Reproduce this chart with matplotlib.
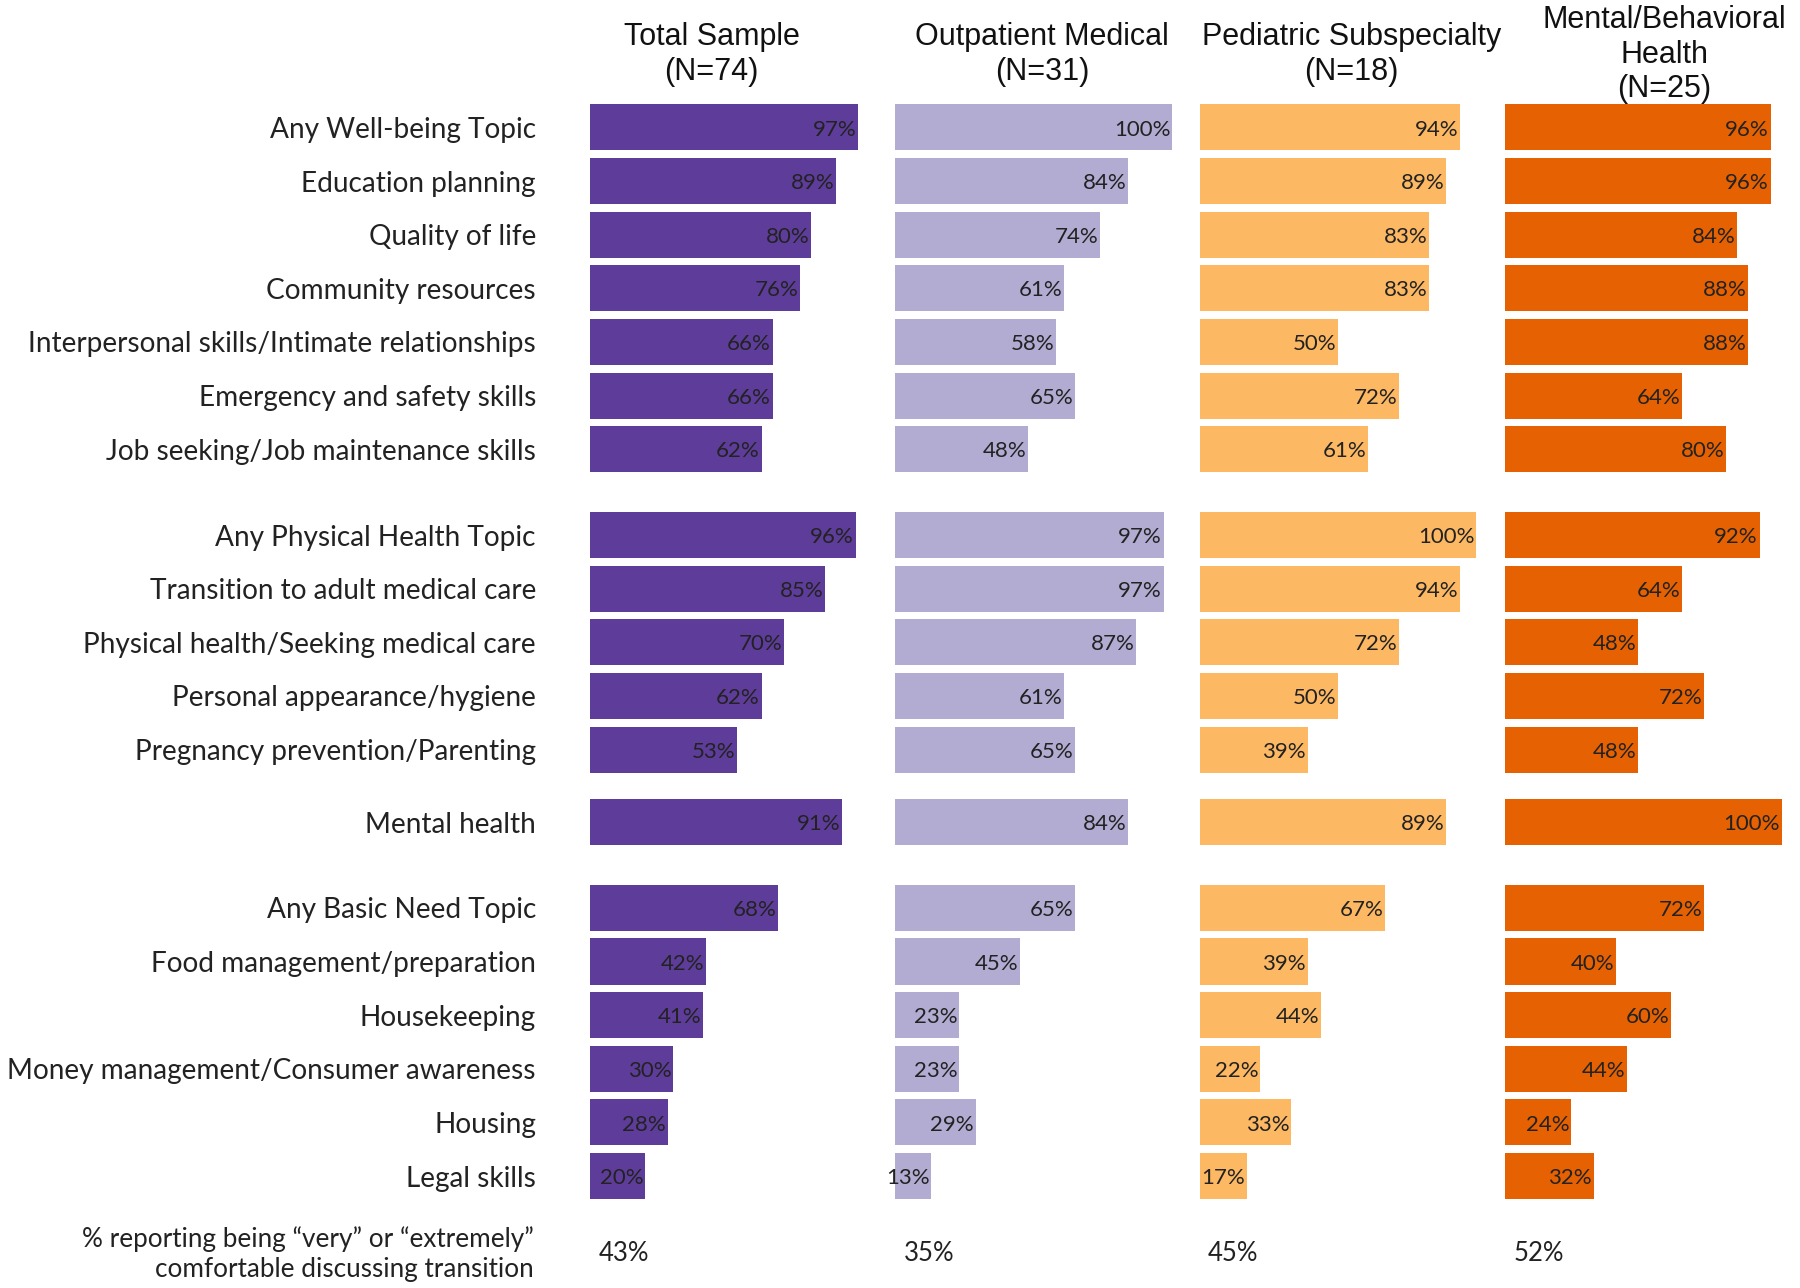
import matplotlib
matplotlib.use("Agg")
import numpy as np
import matplotlib.pyplot as plt

# topics, grouped (well-being, physical health, mental health, basic needs)
groups = [
    ["Any Well-being Topic", "Education planning", "Quality of life",
     "Community resources", "Interpersonal skills/Intimate relationships",
     "Emergency and safety skills", "Job seeking/Job maintenance skills"],
    ["Any Physical Health Topic", "Transition to adult medical care",
     "Physical health/Seeking medical care", "Personal appearance/hygiene",
     "Pregnancy prevention/Parenting"],
    ["Mental health"],
    ["Any Basic Need Topic", "Food management/preparation", "Housekeeping",
     "Money management/Consumer awareness", "Housing", "Legal skills"],
]

panels = ["Total Sample\n(N=74)", "Outpatient Medical\n(N=31)",
          "Pediatric Subspecialty\n(N=18)", "Mental/Behavioral\nHealth\n(N=25)"]

total = [97, 89, 80, 76, 66, 66, 62,
         96, 85, 70, 62, 53,
         91,
         68, 42, 41, 30, 28, 20]
outpatient = [100, 84, 74, 61, 58, 65, 48,
              97, 97, 87, 61, 65,
              84,
              65, 45, 23, 23, 29, 13]
pediatric = [94, 89, 83, 83, 50, 72, 61,
             100, 94, 72, 50, 39,
             89,
             67, 39, 44, 22, 33, 17]
mental = [96, 96, 84, 88, 88, 64, 80,
          92, 64, 48, 72, 48,
          100,
          72, 40, 60, 44, 24, 32]

comfortable = [43, 35, 45, 52]
comfort_label = "% reporting being \u201cvery\u201d or \u201cextremely\u201d\ncomfortable discussing transition"

colors = ["#5e3c99", "#b2abd2", "#fdb863", "#e66101"]
series = [total, outpatient, pediatric, mental]

# row positions with extra gaps between groups
extra_gap = [0.6, 0.35, 0.6]
labels = []
ypos = []
y = 0.0
for gi, g in enumerate(groups):
    for name in g:
        labels.append(name)
        ypos.append(y)
        y += 1
    if gi < len(extra_gap):
        y += extra_gap[gi]
ypos = np.array(ypos)

label_font = "Lato"
head_font = "Liberation Sans"

fig = plt.figure(figsize=(18, 12.88), dpi=100)
W, H = 1568.0, 1122.0
lefts = [514, 780, 1045, 1311]
head_x = [44, 53, 55, 57.7]
top = 1 - 87.65 / H
bottom = 1 - 1047.8 / H

for i in range(4):
    ax = fig.add_axes([lefts[i] / W, bottom, 241 / W, top - bottom])
    vals = series[i]
    ax.barh(ypos, vals, height=0.86, color=colors[i])
    for yy, v in zip(ypos, vals):
        ax.text(v - 0.6, yy + 0.04, f"{v}%", ha="right", va="center",
                fontsize=16, color="#222222", family=label_font)
    ax.set_xlim(0, 100)
    ax.set_ylim(ypos[-1] + 0.5, -0.5)
    for s in ax.spines.values():
        s.set_visible(False)
    ax.set_xticks([])
    if i == 0:
        ax.set_yticks(ypos)
        ax.set_yticklabels(labels, fontsize=20.2, family=label_font, color="#222222")
        ax.tick_params(axis="y", length=0, pad=39)
        ax.text(-49 / 241 * 100, ypos[-1] + 1.45, comfort_label,
                ha="right", va="center", fontsize=18.8, family=label_font,
                color="#222222", linespacing=1.25, clip_on=False)
    else:
        ax.set_yticks([])
    ax.text(3, ypos[-1] + 1.45, f"{comfortable[i]}%", ha="left", va="center",
            fontsize=18.5, family=label_font, color="#222222", clip_on=False)
    fig.text((lefts[i] + head_x[i] / 100 * 241) / W, 1 - 47.5 / H, panels[i],
             ha="center", va="center", fontsize=22, family=head_font,
             color="#111111", linespacing=1.2)

fig.savefig("out.png", dpi=100)
